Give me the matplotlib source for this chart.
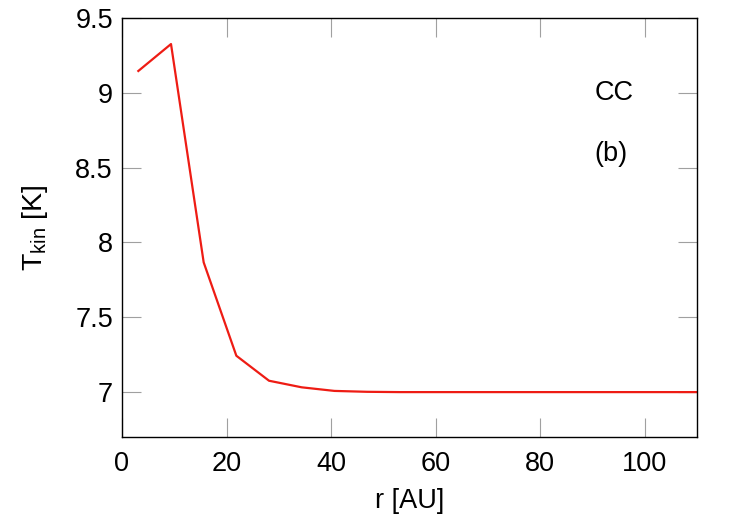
import matplotlib
matplotlib.use("Agg")
import matplotlib.pyplot as plt

plt.rcParams['font.family'] = ['Liberation Sans', 'DejaVu Sans']
plt.rcParams['mathtext.fontset'] = 'custom'
plt.rcParams['mathtext.rm'] = 'Liberation Sans'

r_au = [3.125, 9.375, 15.625, 21.875, 28.125, 34.375, 40.625, 46.875, 53.125,
        59.375, 65.625, 71.875, 78.125, 84.375, 90.625, 96.875, 103.125,
        109.375, 115.625]
t_kin = [9.146, 9.326, 7.867, 7.243, 7.076, 7.032, 7.008, 7.002, 7.0,
         7.0, 7.0, 7.0, 7.0, 7.0, 7.0, 7.0, 7.0, 7.0, 7.0]
x_ticks = [0, 20, 40, 60, 80, 100]
y_ticks = [7, 7.5, 8, 8.5, 9, 9.5]
y_tick_labels = ['7', '7.5', '8', '8.5', '9', '9.5']

FS = 19.5

fig = plt.figure(figsize=(7.5, 5.25), dpi=100)
ax = fig.add_axes([122/750, 1 - 437/525, (697-122)/750, (437-18)/525])

ax.plot(r_au, t_kin, color='#ee1c14', lw=1.6)
ax.set_xlim(0, 110)
ax.set_ylim(6.7, 9.5)
ax.set_xticks(x_ticks)
ax.set_yticks(y_ticks)
ax.set_yticklabels(y_tick_labels)
ax.tick_params(direction='in', length=13.5, width=0.8, color='#a0a0a0',
               top=True, right=True, labelsize=FS)
ax.tick_params(axis='x', pad=10)
ax.tick_params(axis='y', pad=6.5)
for s in ax.spines.values():
    s.set_linewidth(1.0)

ax.set_xlabel('r [AU]', fontsize=FS, labelpad=8)
ax.set_ylabel(r'T$_{\mathregular{kin}}$ [K]', fontsize=20.5, labelpad=18)

ax.text(90.4, 9.0, 'CC', fontsize=FS, va='center', ha='left')
ax.text(90.3, 8.59, '(b)', fontsize=FS, va='center', ha='left')

fig.savefig('out.png', dpi=100)
